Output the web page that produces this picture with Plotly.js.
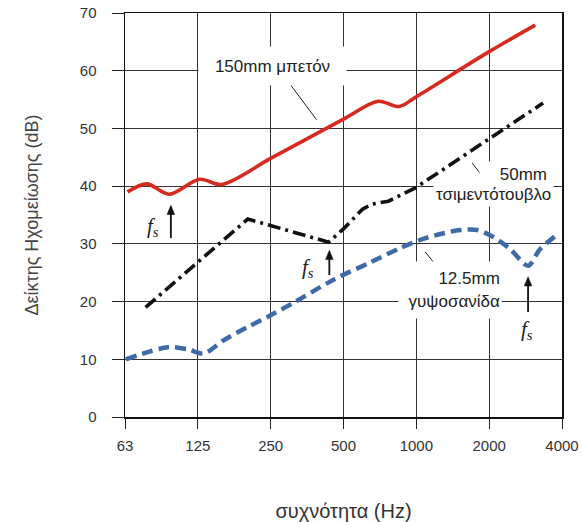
<!DOCTYPE html>
<html>
<head>
<meta charset="utf-8">
<script src="https://cdn.plot.ly/plotly-3.0.1.min.js"></script>
<style>html,body{margin:0;padding:0;background:#fff;}#chart{width:582px;height:522px;}</style>
</head>
<body>
<div id="chart"></div>
<script>
// Frequencies (Hz) and sound reduction index (dB)
const concreteHz = [64, 77, 95, 127, 157, 250, 500, 695, 850, 1000, 2000, 3100];
const concreteDb = [39.0, 40.4, 38.6, 41.2, 40.3, 44.8, 51.6, 54.7, 53.8, 55.5, 63.3, 67.9];

const blockHz = [76, 201, 434, 500, 599, 658, 767, 860, 991, 3340];
const blockDb = [19.0, 34.3, 30.3, 32.6, 36.0, 36.9, 37.4, 38.4, 39.7, 54.4];

const gypsumHz = [63, 94, 114, 132, 160, 201, 252, 311, 455, 646, 860, 1039, 1256, 1519, 1785, 2078, 2442, 2896, 3247, 3850];
const gypsumDb = [10.0, 12.1, 11.7, 11.0, 13.3, 15.6, 17.7, 19.8, 23.8, 26.8, 29.3, 30.7, 31.7, 32.4, 32.4, 31.2, 29.1, 26.2, 29.1, 31.7];

const xTickVals = [62.5, 125, 250, 500, 1000, 2000, 4000];
const xTickText = ['63', '125', '250', '500', '1000', '2000', '4000'];
const yTickVals = [0, 10, 20, 30, 40, 50, 60, 70];

const labelConcrete = '150mm μπετόν';
const labelBlock1 = '50mm';
const labelBlock2 = 'τσιμεντότουβλο';
const labelGypsum = '12.5mm<br>γυψοσανίδα';
const fsText = '<i>f<sub>s</sub></i>';

const L = Math.log10;

const traces = [
  {x: concreteHz, y: concreteDb, mode: 'lines', line: {color: '#d62a1e', width: 3.6, shape: 'spline', smoothing: 0.9}},
  {x: blockHz, y: blockDb, mode: 'lines', line: {color: '#111', width: 3.6, dash: '13px,5px,3px,5px'}},
  {x: gypsumHz, y: gypsumDb, mode: 'lines', line: {color: '#3f6aa8', width: 4.5, dash: '11px,6px', shape: 'spline', smoothing: 0.8}}
];

const txtFont = {family: 'Liberation Sans, Arial, sans-serif', size: 17, color: '#222'};
const fsFont = {family: 'Liberation Serif, DejaVu Serif, serif', size: 21, color: '#222'};

const annotations = [
  {x: L(255), y: 60.8, xref: 'x', yref: 'y', text: labelConcrete, showarrow: false, font: txtFont, bgcolor: '#fff', width: 145, height: 36},
  {x: L(3535), y: 42.1, xref: 'x', yref: 'y', xanchor: 'right', text: labelBlock1, showarrow: false, font: txtFont, bgcolor: '#fff', width: 66, height: 22, align: 'right', borderpad: 1},
  {x: L(3706), y: 38.5, xref: 'x', yref: 'y', xanchor: 'right', text: labelBlock2, showarrow: false, font: txtFont, bgcolor: '#fff', borderpad: 2},
  {x: L(1381), y: 22.0, xref: 'x', yref: 'y', text: labelGypsum, showarrow: false, font: txtFont, bgcolor: '#fff', width: 100, height: 54, align: 'right', borderpad: 1},
  // fs labels
  {x: L(81.5), y: 32.9, xref: 'x', yref: 'y', text: fsText, showarrow: false, font: fsFont},
  {x: L(356), y: 25.8, xref: 'x', yref: 'y', text: fsText, showarrow: false, font: fsFont},
  {x: L(2869), y: 15.1, xref: 'x', yref: 'y', text: fsText, showarrow: false, font: fsFont}
];

// leader lines from labels to curves (data coordinates on the log axis)
const seg = (f0, d0, f1, d1, w, c) => ({type: 'line', xref: 'x', yref: 'y', x0: f0, y0: d0, x1: f1, y1: d1, line: {color: c, width: w}});
// upward arrow: tip at (f, tip), tail at (f, tail); head ~9px long, ~8px wide
const headLen = 1.6;            // dB
const headHalf = Math.pow(2, 3.8 / 73); // frequency factor for ~3.8px
const arrow = (f, tip, tail) => [
  seg(f, tail, f, tip - headLen + 0.2, 1.8, '#111'),
  {type: 'path', xref: 'x', yref: 'y', fillcolor: '#111', line: {color: '#111', width: 0.5},
   path: 'M' + f + ',' + tip + ' L' + (f * headHalf) + ',' + (tip - headLen) + ' L' + (f / headHalf) + ',' + (tip - headLen) + ' Z'}
];
const shapes = [
  seg(287, 58.8, 387, 51.5, 1, '#222'),
  seg(1702, 44.0, 1925, 41.1, 1, '#222'),
  seg(1089, 28.6, 1231, 25.8, 1, '#222'),
  ...arrow(96.7, 36.7, 31.0),
  ...arrow(437, 28.9, 24.6),
  ...arrow(2896, 24.3, 18.2)
];

const layout = {
  width: 582, height: 522,
  margin: {l: 125, r: 20, t: 13, b: 105},
  paper_bgcolor: '#fff', plot_bgcolor: '#fff',
  showlegend: false,
  font: {family: 'Liberation Sans, Arial, sans-serif', color: '#333'},
  xaxis: {
    type: 'log', range: [L(62.5), L(4000)],
    tickvals: xTickVals, ticktext: xTickText,
    ticks: 'outside', ticklen: 10, tickcolor: '#222', tickwidth: 1,
    showgrid: true, gridcolor: '#333', gridwidth: 1,
    showline: true, linecolor: '#111', linewidth: 1.5, mirror: true,
    zeroline: false,
    tickfont: {size: 15, color: '#333'},
    ticklabelstandoff: 4,
    title: {text: 'συχνότητα (Hz)', font: {size: 20, color: '#333'}, standoff: 54}
  },
  yaxis: {
    range: [0, 70], tickvals: yTickVals,
    ticks: 'outside', ticklen: 12, tickcolor: '#222', tickwidth: 1,
    showgrid: true, gridcolor: '#333', gridwidth: 1,
    showline: true, linecolor: '#111', linewidth: 1.5, mirror: true,
    zeroline: false,
    tickfont: {size: 15, color: '#333'},
    ticklabelstandoff: 12,
    title: {text: 'Δείκτης Ηχομείωσης (dB)', font: {size: 18, color: '#444'}, standoff: 36}
  },
  shapes: shapes,
  annotations: annotations
};

Plotly.newPlot('chart', traces, layout, {displayModeBar: false, staticPlot: true});
</script>
</body>
</html>
